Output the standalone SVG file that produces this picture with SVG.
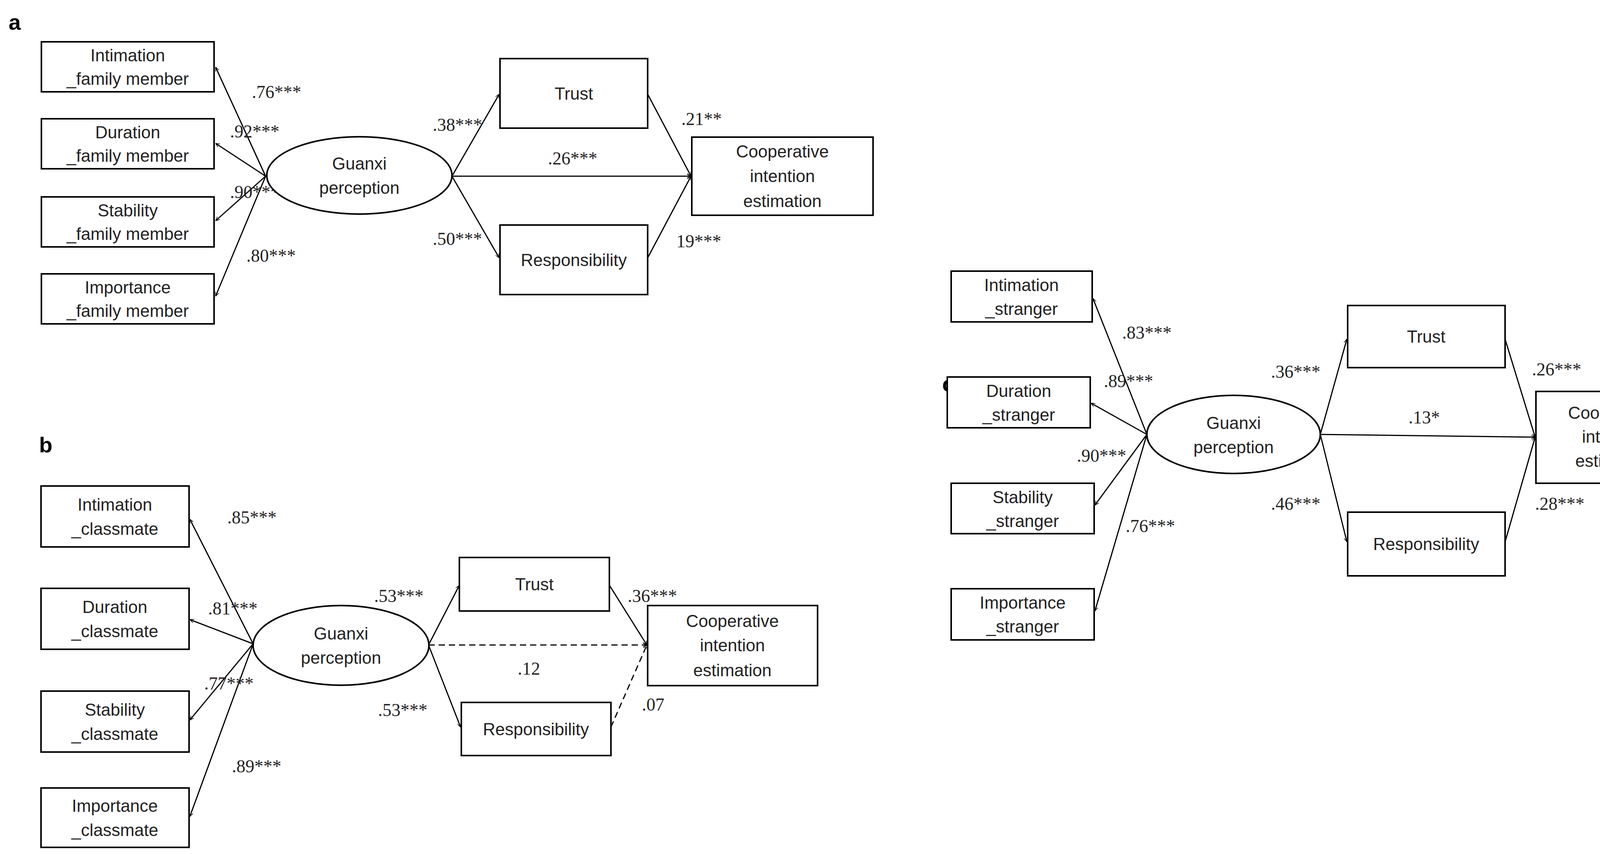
<svg xmlns="http://www.w3.org/2000/svg" width="4364" height="2186" viewBox="0 0 4364 2186">
<style>
.b{fill:#fff;stroke:#000;stroke-width:4}
.t{font-family:"Liberation Sans",Arial,sans-serif;font-size:44px;fill:#222;text-anchor:middle;dominant-baseline:central}
.l{font-family:"Liberation Serif","Times New Roman",serif;font-size:46px;fill:#222;text-anchor:middle;dominant-baseline:central}
.p{font-family:"Liberation Sans",Arial,sans-serif;font-size:56px;font-weight:bold;fill:#000}
.c{stroke:#000;stroke-width:3;fill:none;marker-end:url(#a)}
.d{stroke-dasharray:16 10}
</style>
<defs><marker id="a" viewBox="0 0 20 20" refX="19" refY="10" markerWidth="12" markerHeight="12" markerUnits="userSpaceOnUse" orient="auto"><path d="M2,2 L19,10 L2,18" fill="none" stroke="#000" stroke-width="2.5"/></marker></defs>
<rect width="4364" height="2186" fill="#fff"/>
<text class="p" x="22" y="76">a</text>
<text class="p" x="100" y="1158">b</text>
<text class="p" x="2412" y="1002">c</text>
<g id="connectors">
<line class="c" x1="680" y1="451" x2="552" y2="172"/>
<line class="c" x1="680" y1="451" x2="552" y2="367"/>
<line class="c" x1="680" y1="451" x2="552" y2="565"/>
<line class="c" x1="680" y1="451" x2="552" y2="758"/>
<line class="c" x1="1157" y1="451" x2="1278" y2="241"/>
<line class="c" x1="1157" y1="451" x2="1278" y2="660"/>
<line class="c" x1="1157" y1="451" x2="1769" y2="451"/>
<line class="c" x1="1658" y1="241" x2="1769" y2="451"/>
<line class="c" x1="1658" y1="660" x2="1769" y2="451"/>
<line class="c" x1="648" y1="1648" x2="486" y2="1329"/>
<line class="c" x1="648" y1="1648" x2="486" y2="1586"/>
<line class="c" x1="648" y1="1648" x2="486" y2="1843"/>
<line class="c" x1="648" y1="1648" x2="486" y2="2090"/>
<line class="c" x1="1097" y1="1651" x2="1176" y2="1498"/>
<line class="c" x1="1097" y1="1651" x2="1179" y2="1861"/>
<line class="c d" x1="1097" y1="1651" x2="1656" y2="1651"/>
<line class="c" x1="1560" y1="1498" x2="1656" y2="1651"/>
<line class="c d" x1="1564" y1="1861" x2="1656" y2="1651"/>
<line class="c" x1="2936" y1="1112" x2="2798" y2="764"/>
<line class="c" x1="2936" y1="1112" x2="2793" y2="1032"/>
<line class="c" x1="2936" y1="1112" x2="2803" y2="1293"/>
<line class="c" x1="2936" y1="1112" x2="2803" y2="1564"/>
<line class="c" x1="3380" y1="1112" x2="3448" y2="868"/>
<line class="c" x1="3380" y1="1112" x2="3448" y2="1387"/>
<line class="c" x1="3380" y1="1112" x2="3930" y2="1119"/>
<line class="c" x1="3853" y1="868" x2="3930" y2="1119"/>
<line class="c" x1="3853" y1="1387" x2="3930" y2="1119"/>
</g>
<g id="labels">
<text class="l" x="708" y="235">.76***</text>
<text class="l" x="652" y="336">.92***</text>
<text class="l" x="652" y="491">.90***</text>
<text class="l" x="694" y="654">.80***</text>
<text class="l" x="1171" y="319">.38***</text>
<text class="l" x="1466" y="405">.26***</text>
<text class="l" x="1171" y="611">.50***</text>
<text class="l" x="1796" y="304">.21**</text>
<text class="l" x="1789" y="617">19***</text>
<text class="l" x="645" y="1324">.85***</text>
<text class="l" x="596" y="1557">.81***</text>
<text class="l" x="586" y="1749">.77***</text>
<text class="l" x="657" y="1961">.89***</text>
<text class="l" x="1021" y="1525">.53***</text>
<text class="l" x="1354" y="1711">.12</text>
<text class="l" x="1031" y="1817">.53***</text>
<text class="l" x="1670" y="1525">.36***</text>
<text class="l" x="1672" y="1803">.07</text>
<text class="l" x="2936" y="851">.83***</text>
<text class="l" x="2889" y="975">.89***</text>
<text class="l" x="2820" y="1166">.90***</text>
<text class="l" x="2945" y="1346">.76***</text>
<text class="l" x="3317" y="951">.36***</text>
<text class="l" x="3646" y="1068">.13*</text>
<text class="l" x="3317" y="1289">.46***</text>
<text class="l" x="3985" y="945">.26***</text>
<text class="l" x="3993" y="1289">.28***</text>
</g>
<g id="a-intimation"><rect class="b" x="106" y="107" width="442" height="128"/><text class="t" x="327" y="141">Intimation</text><text class="t" x="327" y="201">_family member</text></g>
<g id="a-duration"><rect class="b" x="106" y="304" width="442" height="128"/><text class="t" x="327" y="338">Duration</text><text class="t" x="327" y="398">_family member</text></g>
<g id="a-stability"><rect class="b" x="106" y="504" width="442" height="128"/><text class="t" x="327" y="538">Stability</text><text class="t" x="327" y="598">_family member</text></g>
<g id="a-importance"><rect class="b" x="106" y="701" width="442" height="128"/><text class="t" x="327" y="735">Importance</text><text class="t" x="327" y="795">_family member</text></g>
<g id="a-guanxi"><ellipse class="b" cx="920" cy="449" rx="237" ry="99"/><text class="t" x="920" y="418">Guanxi</text><text class="t" x="920" y="480">perception</text></g>
<g id="a-trust"><rect class="b" x="1280" y="150" width="378" height="178"/><text class="t" x="1469" y="239">Trust</text></g>
<g id="a-resp"><rect class="b" x="1280" y="576" width="378" height="178"/><text class="t" x="1469" y="665">Responsibility</text></g>
<g id="a-coop"><rect class="b" x="1771" y="351" width="464" height="200"/><text class="t" x="2003" y="387">Cooperative</text><text class="t" x="2003" y="450">intention</text><text class="t" x="2003" y="514">estimation</text></g>
<g id="b-intimation"><rect class="b" x="105" y="1244" width="379" height="156"/><text class="t" x="294" y="1291">Intimation</text><text class="t" x="294" y="1353">_classmate</text></g>
<g id="b-duration"><rect class="b" x="105" y="1506" width="379" height="156"/><text class="t" x="294" y="1553">Duration</text><text class="t" x="294" y="1615">_classmate</text></g>
<g id="b-stability"><rect class="b" x="105" y="1769" width="379" height="156"/><text class="t" x="294" y="1816">Stability</text><text class="t" x="294" y="1878">_classmate</text></g>
<g id="b-importance"><rect class="b" x="105" y="2017" width="379" height="152"/><text class="t" x="294" y="2062">Importance</text><text class="t" x="294" y="2124">_classmate</text></g>
<g id="b-guanxi"><ellipse class="b" cx="873" cy="1652" rx="225" ry="102"/><text class="t" x="873" y="1621">Guanxi</text><text class="t" x="873" y="1683">perception</text></g>
<g id="b-trust"><rect class="b" x="1176" y="1427" width="384" height="137"/><text class="t" x="1368" y="1495">Trust</text></g>
<g id="b-resp"><rect class="b" x="1181" y="1798" width="383" height="136"/><text class="t" x="1372" y="1866">Responsibility</text></g>
<g id="b-coop"><rect class="b" x="1658" y="1550" width="435" height="205"/><text class="t" x="1875" y="1589">Cooperative</text><text class="t" x="1875" y="1651">intention</text><text class="t" x="1875" y="1715">estimation</text></g>
<g id="c-intimation"><rect class="b" x="2435" y="694" width="361" height="130"/><text class="t" x="2615" y="729">Intimation</text><text class="t" x="2615" y="790">_stranger</text></g>
<g id="c-duration"><rect class="b" x="2425" y="965" width="366" height="130"/><text class="t" x="2608" y="1000">Duration</text><text class="t" x="2608" y="1061">_stranger</text></g>
<g id="c-stability"><rect class="b" x="2435" y="1237" width="366" height="129"/><text class="t" x="2618" y="1272">Stability</text><text class="t" x="2618" y="1333">_stranger</text></g>
<g id="c-importance"><rect class="b" x="2435" y="1507" width="366" height="131"/><text class="t" x="2618" y="1542">Importance</text><text class="t" x="2618" y="1603">_stranger</text></g>
<g id="c-guanxi"><ellipse class="b" cx="3158" cy="1112" rx="222" ry="100"/><text class="t" x="3158" y="1082">Guanxi</text><text class="t" x="3158" y="1144">perception</text></g>
<g id="c-trust"><rect class="b" x="3450" y="782" width="403" height="159"/><text class="t" x="3651" y="861">Trust</text></g>
<g id="c-resp"><rect class="b" x="3450" y="1311" width="403" height="163"/><text class="t" x="3651" y="1392">Responsibility</text></g>
<g id="c-coop"><rect class="b" x="3932" y="1002" width="403" height="235"/><text class="t" x="4133" y="1056">Cooperative</text><text class="t" x="4133" y="1117">intention</text><text class="t" x="4133" y="1179">estimation</text></g>
</svg>
